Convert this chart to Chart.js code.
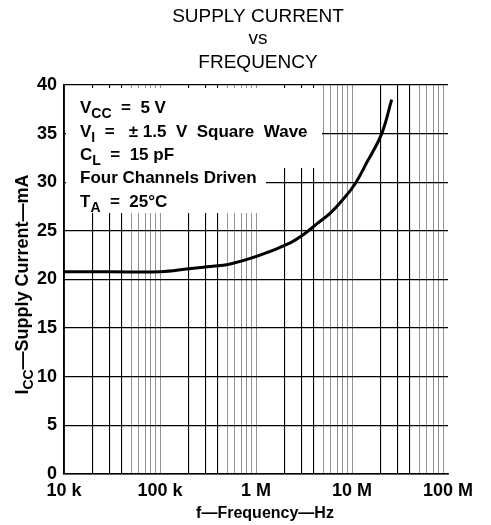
<!DOCTYPE html>
<html>
<head>
<meta charset="utf-8">
<script src="https://cdn.jsdelivr.net/npm/chart.js@4.4.1/dist/chart.umd.min.js"></script>
<style>
  html, body { margin: 0; padding: 0; background: #fff; }
  #wrap { width: 491px; height: 525px; position: relative; }
</style>
</head>
<body>
<div id="wrap"><canvas id="icc-chart"></canvas></div>
<script>
// Supply current vs frequency
const freqHz = [1e4, 3e4, 1e5, 2e5, 3.1e5, 5.4e5, 1.1e6, 2.3e6, 3.2e6, 4.4e6, 5.9e6, 8.0e6, 1.07e7, 1.42e7, 2.04e7, 2.59e7];
const supplyMa = [20.8, 20.8, 20.8, 21.1, 21.3, 21.6, 22.5, 23.8, 24.7, 25.8, 26.8, 28.2, 29.8, 32.0, 35.0, 38.5];

// Axis ticks
const xDecades = [1e4, 1e5, 1e6, 1e7, 1e8];
const xTickLabels = ['10 k', '100 k', '1 M', '10 M', '100 M'];
const yMin = 0, yMax = 40, yStep = 5;

// Texts ([text, isSubscript] parts where subscripts are needed)
const titleLines = ['SUPPLY CURRENT', 'vs', 'FREQUENCY'];
const xTitle = 'f\u2014Frequency\u2014Hz';
const yTitleParts = [['I', false], ['CC', true], ['\u2014Supply Current\u2014mA', false]];
const conditions = [
  [['V', false], ['CC', true], ['  =  5 V', false]],
  [['V', false], ['I', true], ['  =   \u00b1 1.5  V  Square  Wave', false]],
  [['C', false], ['L', true], ['  =  15 pF', false]],
  [['Four Channels Driven', false]],
  [['T', false], ['A', true], ['  =  25\u00b0C', false]]
];

const FONT = '"Liberation Sans", Arial, Helvetica, sans-serif';

// draw text with subscripts, returns end x
function drawParts(ctx, parts, x, y, size) {
  parts.forEach(([txt, sub]) => {
    ctx.font = `bold ${sub ? Math.round(size * 0.8) : size}px ${FONT}`;
    ctx.fillText(txt, x, sub ? y + size * 0.3 : y);
    x += ctx.measureText(txt).width;
  });
  return x;
}

function partsWidth(ctx, parts, size) {
  let w = 0;
  parts.forEach(([txt, sub]) => {
    ctx.font = `bold ${sub ? Math.round(size * 0.8) : size}px ${FONT}`;
    w += ctx.measureText(txt).width;
  });
  return w;
}

// mantissa of a log tick (1..9)
function mantissa(v) {
  const p = Math.pow(10, Math.floor(Math.log10(v) + 1e-9));
  return Math.round(v / p);
}

const textPlugin = {
  id: 'datasheetText',
  beforeDatasetsDraw(chart) {
    const ctx = chart.ctx;
    const area = chart.chartArea;
    ctx.save();
    // white patch behind the test conditions
    ctx.fillStyle = '#fff';
    ctx.fillRect(area.left + 2, area.top + 3, 256, 80);
    ctx.fillRect(area.left + 2, area.top + 80, 200, 48);
    ctx.fillStyle = '#000';
    ctx.textAlign = 'left';
    ctx.textBaseline = 'alphabetic';
    const baselines = [113, 137, 160, 183, 207];
    conditions.forEach((parts, i) => drawParts(ctx, parts, area.left + 16, baselines[i], 17));
    ctx.restore();
  },
  afterDraw(chart) {
    const ctx = chart.ctx;
    const area = chart.chartArea;
    ctx.save();
    ctx.fillStyle = '#000';
    ctx.textAlign = 'center';
    ctx.textBaseline = 'alphabetic';
    ctx.font = `19px ${FONT}`;
    const titleY = [22, 44, 68];
    titleLines.forEach((t, i) => ctx.fillText(t, 258, titleY[i]));

    // x axis title
    ctx.font = `bold 16px ${FONT}`;
    ctx.fillText(xTitle, 265, 518);

    // y axis title, rotated
    const w = partsWidth(ctx, yTitleParts, 18);
    ctx.translate(28, (area.top + area.bottom) / 2 + 5);
    ctx.rotate(-Math.PI / 2);
    ctx.textAlign = 'left';
    drawParts(ctx, yTitleParts, -w / 2, 0, 18);
    ctx.restore();
  }
};

new Chart(document.getElementById('icc-chart'), {
  type: 'line',
  data: {
    datasets: [{
      data: freqHz.map((f, i) => ({ x: f, y: supplyMa[i] })),
      borderColor: '#000',
      borderWidth: 3,
      pointRadius: 0,
      tension: 0.4,
      fill: false
    }]
  },
  options: {
    responsive: true,
    maintainAspectRatio: false,
    animation: false,
    layout: { padding: { top: 85, right: 43, left: 0, bottom: 0 } },
    plugins: {
      legend: { display: false },
      tooltip: { enabled: false }
    },
    scales: {
      x: {
        type: 'logarithmic',
        min: xDecades[0],
        max: xDecades[xDecades.length - 1],
        afterFit(scale) { scale.height = 51; },
        afterBuildTicks(scale) {
          const ticks = [];
          xDecades.forEach((d, i) => {
            const last = i === xDecades.length - 1;
            for (let m = 1; m <= (last ? 1 : 9); m++) ticks.push({ value: d * m });
          });
          scale.ticks = ticks;
        },
        ticks: {
          autoSkip: false,
          maxRotation: 0,
          minRotation: 0,
          padding: 6,
          color: '#000',
          font: { family: FONT, size: 18, weight: 'bold' },
          callback: (value) => {
            const i = xDecades.indexOf(value);
            return i >= 0 ? xTickLabels[i] : '';
          }
        },
        grid: {
          drawTicks: false,
          color: (c) => {
            const v = c.tick && c.tick.value;
            if (!v) return '#000';
            if (v === xDecades[xDecades.length - 1]) return 'rgba(0,0,0,0)';
            if (v === xDecades[0]) return '#000';
            const m = mantissa(v);
            return (m >= 2 && m <= 4) ? '#000' : '#777';
          },
          lineWidth: (c) => {
            const v = c.tick && c.tick.value;
            if (!v) return 1;
            const m = mantissa(v);
            return (m >= 2 && m <= 4) ? 1.1 : 0.8;
          }
        },
        border: { display: true, color: '#000', width: 1.5 }
      },
      y: {
        min: yMin,
        max: yMax,
        afterFit(scale) { scale.width = 64; },
        ticks: {
          stepSize: yStep,
          padding: 7,
          color: '#000',
          font: { family: FONT, size: 18, weight: 'bold' }
        },
        grid: { drawTicks: false, color: '#000', lineWidth: 1.3 },
        border: { display: true, color: '#000', width: 1.5 }
      }
    }
  },
  plugins: [textPlugin]
});
</script>
</body>
</html>
